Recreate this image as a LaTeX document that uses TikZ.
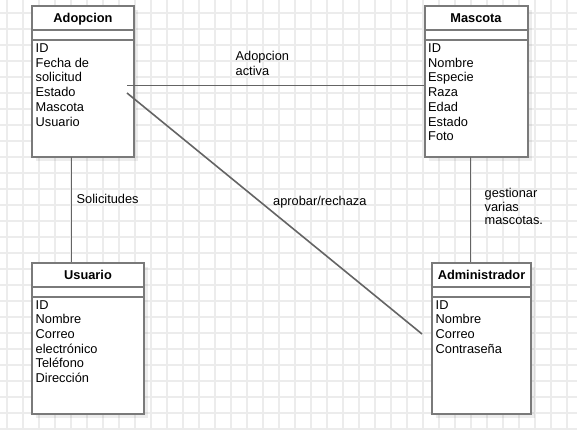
\documentclass[tikz,border=0pt]{standalone}
\usepackage{fontspec}
\setmainfont{Liberation Sans}
\usetikzlibrary{shadows}

\definecolor{gridgray}{RGB}{236,236,236}
\definecolor{boxgray}{RGB}{122,122,122}
\definecolor{linkgray}{RGB}{100,100,100}

\tikzset{
  classbox/.style={rectangle, draw=boxgray, line width=2pt, fill=white, inner sep=0, anchor=north west,
    drop shadow={shadow xshift=4pt, shadow yshift=-4pt, fill=black, opacity=0.07}},
  classline/.style={draw=boxgray, line width=2pt},
  classtitle/.style={font=\fontsize{12.8}{14.7}\selectfont\bfseries, anchor=base, inner sep=0},
  classattr/.style={font=\fontsize{12.8}{14.7}\selectfont, align=left, anchor=north west, inner sep=0},
  linklabel/.style={font=\fontsize{12.8}{14.3}\selectfont, align=left, anchor=north west, inner sep=0},
  link/.style={draw=linkgray, line width=1.6pt},
  gridline/.style={draw=gridgray, line width=1.3pt}
}

\begin{document}
\begin{tikzpicture}[x=1pt,y=-1pt]

\useasboundingbox (0,0) rectangle (577,430);
\fill [white] (0,0) rectangle (577,430);
\foreach \gx in {7,23,...,567} \draw [gridline] (\gx,0) -- (\gx,430);
\foreach \gy in {13,29,...,429} \draw [gridline] (0,\gy) -- (577,\gy);

\node [classbox, minimum width=102, minimum height=151] (adopcion) at (31,5.5) {};
\node [classbox, minimum width=103, minimum height=151] (mascota) at (423.5,5.5) {};
\node [classbox, minimum width=112, minimum height=151] (usuario) at (31,262) {};
\node [classbox, minimum width=99, minimum height=151] (admin) at (431,262) {};

\draw [classline] (adopcion.north west) ++(0,25) -- ++(102,0) ;
\draw [classline] (adopcion.north west) ++(0,35) -- ++(102,0) ;
\draw [classline] (mascota.north west) ++(0,25) -- ++(103,0) ;
\draw [classline] (mascota.north west) ++(0,35) -- ++(103,0) ;
\draw [classline] (usuario.north west) ++(0,25) -- ++(112,0) ;
\draw [classline] (usuario.north west) ++(0,35) -- ++(112,0) ;
\draw [classline] (admin.north west) ++(0,25) -- ++(99,0) ;
\draw [classline] (admin.north west) ++(0,35) -- ++(99,0) ;

\path (adopcion.north) ++(0,17) node [classtitle] (adopcion-title) {Adopcion};
\path (mascota.north) ++(0,17) node [classtitle] (mascota-title) {Mascota};
\path (usuario.north) ++(0,17) node [classtitle] (usuario-title) {Usuario};
\path (admin.north) ++(0,17) node [classtitle] (admin-title) {Administrador};

\path (adopcion.north west) ++(4.5,38) node [classattr] (adopcion-attr)
  {ID\\Fecha de\\solicitud\\Estado\\Mascota\\Usuario};
\path (mascota.north west) ++(4.5,38) node [classattr] (mascota-attr)
  {ID\\Nombre\\Especie\\Raza\\Edad\\Estado\\Foto};
\path (usuario.north west) ++(4.5,38) node [classattr] (usuario-attr)
  {ID\\Nombre\\Correo\\electrónico\\Teléfono\\Dirección};
\path (admin.north west) ++(4.5,38) node [classattr] (admin-attr)
  {ID\\Nombre\\Correo\\Contraseña};

\coordinate (adopcion-out) at (127,85.5);
\coordinate (adopcion-diag) at (127,93);
\coordinate (admin-in) at (422,334);
\coordinate (solicitudes-top) at (71.5,157);
\coordinate (gestiona-top) at (470.5,157);

\draw [link] (adopcion-out) -- (adopcion-out -| mascota.west) ;
\draw [link] (adopcion-diag) -- (admin-in) ;
\draw [link] (solicitudes-top) -- (solicitudes-top |- usuario.north) ;
\draw [link] (gestiona-top) -- (gestiona-top |- admin.north) ;

\node [linklabel] (activa-label) at (235.5,51.5) {Adopcion\\activa};
\node [linklabel] (aprobar-label) at (273,196.5) {aprobar/rechaza};
\node [linklabel] (solicitudes-label) at (76.5,194) {Solicitudes};
\node [linklabel, font=\fontsize{12.8}{13.2}\selectfont] (gestiona-label) at (484.5,188.5) {gestionar\\varias\\mascotas.};

\end{tikzpicture}
\end{document}
